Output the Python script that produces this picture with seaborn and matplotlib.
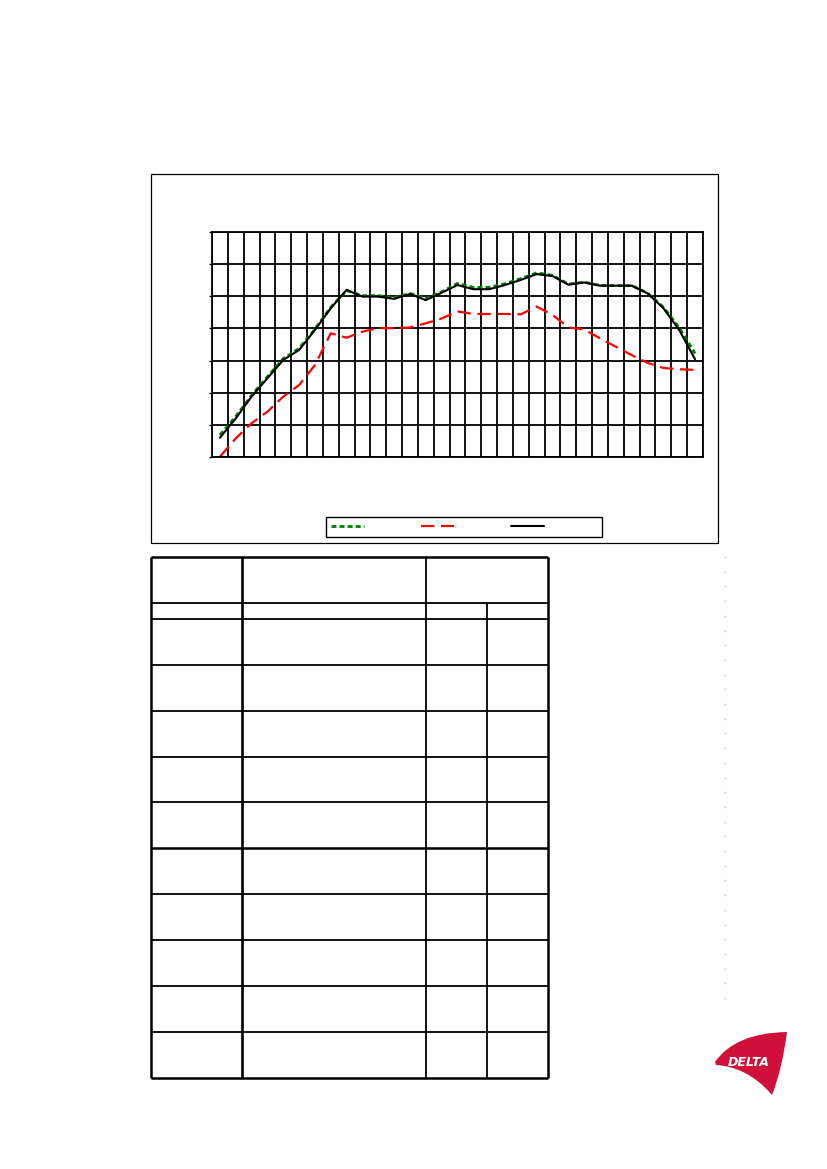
import numpy as np
import pandas as pd
import matplotlib
matplotlib.use('Agg')
import matplotlib.pyplot as plt
from matplotlib.patches import Rectangle, PathPatch
from matplotlib.path import Path
import seaborn as sns

# Estilo base do seaborn
sns.set_theme(style="white")
plt.rcParams['font.family'] = ['DejaVu Sans']

# Dados: 31 bandas de 1/3 de oitava (sem rótulos no original)
bandas = list(range(31))

curva_verde = [6.8, 12.6, 19.2, 25.0, 30.6, 33.8, 39.8, 46.6, 51.8, 50.2,
               50.2, 49.6, 50.9, 49.3, 51.4, 54.0, 52.8, 52.8, 53.9, 55.5,
               57.3, 56.5, 53.8, 54.4, 53.4, 53.3, 53.3, 51.0, 46.6, 40.2,
               32.2]
curva_vermelha = [0.1, 5.8, 10.5, 14.1, 18.8, 22.4, 28.6, 38.5, 37.1, 39.0,
                  40.1, 40.1, 40.3, 41.6, 43.1, 45.3, 44.5, 44.5, 44.5, 44.4,
                  46.8, 44.2, 40.3, 39.7, 36.9, 34.3, 31.7, 29.3, 27.7, 27.3,
                  27.1]
curva_preta = [6.0, 12.0, 18.8, 24.5, 30.2, 33.3, 39.5, 46.3, 52.0, 49.9,
               49.9, 49.2, 50.7, 48.8, 51.1, 53.5, 52.2, 52.2, 53.5, 55.1,
               56.9, 56.3, 53.6, 54.3, 53.3, 53.3, 53.3, 50.9, 46.3, 39.5,
               30.4]
y_ticks = [0, 10, 20, 30, 40, 50, 60, 70]

# Tabela vazia: limites das colunas e linhas (em pixels da página)
tab_colunas = [151, 242, 426, 487, 548]
tab_linhas = [557, 603, 619, 665, 711, 757, 802, 848, 894, 940, 986, 1032, 1078]

W, H = 827, 1169
fig = plt.figure(figsize=(W / 100, H / 100), dpi=100)

# Eixo "página" em pixels para moldura, tabela e logotipo
pg = fig.add_axes([0, 0, 1, 1])
pg.set_xlim(0, W)
pg.set_ylim(H, 0)
pg.axis('off')

# Moldura do gráfico
pg.add_patch(Rectangle((151, 174), 567, 369, fill=False, edgecolor='black', lw=0.9))

# Tabela
x0, x1 = tab_colunas[0], tab_colunas[-1]
for y in tab_linhas:
    lw = 1.8 if y in (557, 848, 1078) else 1.3
    pg.hlines(y, x0, x1, color='black', lw=lw)
pg.vlines(tab_colunas[0], tab_linhas[0], tab_linhas[-1], color='black', lw=1.8)
pg.vlines(tab_colunas[1], tab_linhas[0], tab_linhas[-1], color='black', lw=1.9)
pg.vlines(tab_colunas[2], tab_linhas[0], tab_linhas[-1], color='black', lw=1.3)
pg.vlines(tab_colunas[3], tab_linhas[1], tab_linhas[-1], color='black', lw=1.3)
pg.vlines(tab_colunas[4], tab_linhas[0], tab_linhas[-1], color='black', lw=1.8)

# Linha pontilhada clara à direita
yy = np.arange(557, 1003, 14.7)
pg.plot(np.full_like(yy, 724.5), yy, ls='none', marker='.', ms=1.0, color='#d6d6d6')

# Logotipo DELTA
verts = [(715, 1062), (735, 1033), (787, 1032),
         (782, 1070), (772, 1095),
         (755, 1075), (735, 1066), (716, 1065),
         (715, 1062)]
codes = [Path.MOVETO, Path.CURVE3, Path.CURVE3,
         Path.CURVE3, Path.CURVE3,
         Path.CURVE4, Path.CURVE4, Path.CURVE4,
         Path.CLOSEPOLY]
pg.add_patch(PathPatch(Path(verts, codes), facecolor='#d0103a', edgecolor='none'))
pg.text(748.5, 1063, 'DELTA', color='white', fontsize=9, fontweight='bold',
        fontstyle='italic', ha='center', va='center')

# Eixo do gráfico
ax = fig.add_axes([212 / W, 1 - 457 / H, (703 - 212) / W, (457 - 232) / H])
ax.set_facecolor('none')

sns.lineplot(x=bandas, y=curva_verde, ax=ax, color='#008000', lw=2.0,
             linestyle=(0, (1.8, 1.1)), label='')
sns.lineplot(x=bandas, y=curva_vermelha, ax=ax, color='#ff0000', lw=1.6,
             linestyle=(0, (6, 3)), label='')
sns.lineplot(x=bandas, y=curva_preta, ax=ax, color='black', lw=1.5, label='')

ax.set_xlim(-0.5, 30.5)
ax.set_ylim(0, 70)
ax.set_yticks(y_ticks)
ax.set_xticks(np.arange(-0.5, 31, 1))
ax.set_xticklabels([])
ax.set_yticklabels([])
ax.tick_params(axis='y', left=True, length=2.3, width=1, color='black', direction='out')
ax.tick_params(axis='x', bottom=False, length=0)
ax.grid(True, color='black', lw=1.3)
for s in ax.spines.values():
    s.set_color('black')
    s.set_linewidth(1.3)
ax.set_xlabel('')
ax.set_ylabel('')
if ax.get_legend() is not None:
    ax.get_legend().remove()

handles = ax.lines[:3]
fig.legend(handles, ['', '', ''], loc='center',
           bbox_to_anchor=(464 / W, 1 - 527 / H), ncol=3,
           prop={'size': 8}, frameon=True, fancybox=False, framealpha=1,
           edgecolor='black', handlelength=3.0, handletextpad=4.8,
           columnspacing=0.3, borderpad=0.45)

fig.savefig('out.png', dpi=100)
